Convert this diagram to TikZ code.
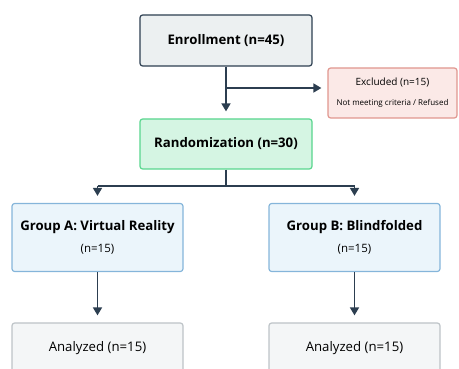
\documentclass[tikz,border=0pt]{standalone}
\usepackage{fontspec}
\setmainfont{Open Sans}
\usetikzlibrary{arrows.meta}

\definecolor{linec}{HTML}{2C3E50}
\definecolor{enrfill}{HTML}{ECF0F1}
\definecolor{excfill}{HTML}{FBE9E7}
\definecolor{excline}{HTML}{E0968E}
\definecolor{randfill}{HTML}{D5F5E3}
\definecolor{randline}{HTML}{58D68D}
\definecolor{grpfill}{HTML}{EBF5FB}
\definecolor{grpline}{HTML}{85B5DA}
\definecolor{anafill}{HTML}{F4F6F7}
\definecolor{analine}{HTML}{BDC3C7}

\begin{document}
\begin{tikzpicture}[x=1pt, y=-1pt,
	box/.style={rectangle, draw, line width=1.2pt, rounded corners=0.5ex, minimum width=172pt, minimum height=51pt, align=center, font=\fontsize{13.2}{15}\selectfont},
	flow/.style={-{Triangle[length=8pt, width=9pt]}, line width=1.5pt, draw=linec, shorten >=7pt}]

		\useasboundingbox (0,0) rectangle (459,369);
		\clip (0,0) rectangle (459,369);

		\node[box, fill=enrfill, draw=linec] (enroll) at (226,40.5) {\textbf{Enrollment (n=45)}};
		\node[box, fill=excfill, draw=excline, minimum width=129pt, minimum height=50pt] (excl) at (392.5,93) {{\fontsize{10}{12}\selectfont Excluded (n=15)}\\[5pt]{\fontsize{8}{9}\selectfont Not meeting criteria / Refused}};
		\node[box, fill=randfill, draw=randline, minimum height=50pt] (rand) at (226,144) {\textbf{Randomization (n=30)}};
		\node[box, fill=grpfill, draw=grpline, minimum width=171pt, minimum height=68pt] (grpa) at (97.5,237.5) {\textbf{Group A: Virtual Reality}\\[7pt]{\fontsize{11.5}{13}\selectfont (n=15)}};
		\node[box, fill=grpfill, draw=grpline, minimum width=171pt, minimum height=68pt] (grpb) at (354.5,237.5) {\textbf{Group B: Blindfolded}\\[7pt]{\fontsize{11.5}{13}\selectfont (n=15)}};
		\node[box, fill=anafill, draw=analine, minimum width=171pt] (anaa) at (97.5,348.5) {Analyzed (n=15)};
		\node[box, fill=anafill, draw=analine, minimum width=171pt] (anab) at (354.5,348.5) {Analyzed (n=15)};

		\coordinate (split) at (enroll.south |- 0,88);
		\coordinate (fork) at (rand.south |- 0,186);

		\draw[flow] (enroll.south) -- (rand.north);
		\draw[flow, shorten >=6pt] (split) -- (split -| excl.west);
		\draw[line width=1.5pt, draw=linec] (rand.south) -- (fork);
		\draw[line width=1.5pt, draw=linec] (fork -| grpa.north) -- (fork -| grpb.north);
		\draw[flow] (fork -| grpa.north) -- (grpa.north);
		\draw[flow] (fork -| grpb.north) -- (grpb.north);
		\draw[flow] (grpa.south) -- (anaa.north);
		\draw[flow] (grpb.south) -- (anab.north);
    \end{tikzpicture}
\end{document}
